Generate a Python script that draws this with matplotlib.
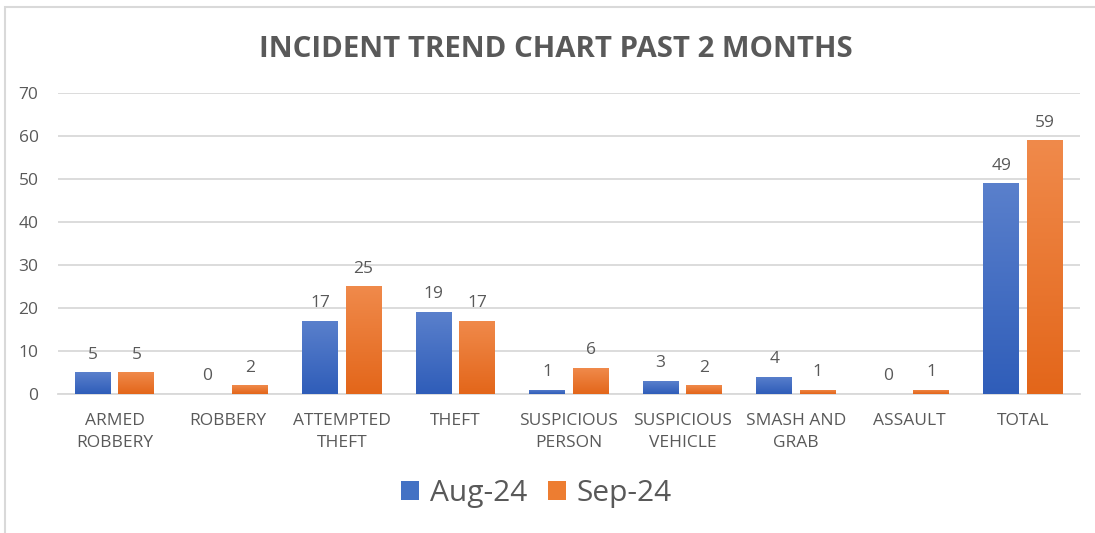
import numpy as np
import matplotlib
matplotlib.use("Agg")
import matplotlib.pyplot as plt
from matplotlib.patches import Rectangle
from matplotlib.colors import LinearSegmentedColormap

plt.rcParams['font.family'] = ['Open Sans', 'DejaVu Sans']

categories = ['ARMED\nROBBERY', 'ROBBERY', 'ATTEMPTED\nTHEFT', 'THEFT', 'SUSPICIOUS\nPERSON',
              'SUSPICIOUS\nVEHICLE', 'SMASH AND\nGRAB', 'ASSAULT', 'TOTAL']
aug_24 = [5, 0, 17, 19, 1, 3, 4, 0, 49]
sep_24 = [5, 2, 25, 17, 6, 2, 1, 1, 59]
y_ticks = [0, 10, 20, 30, 40, 50, 60, 70]

text_grey = '#595959'
grid_grey = '#D9D9D9'


def gradient_bars(ax, bars, top, bottom):
    cmap = LinearSegmentedColormap.from_list('g', [bottom, top])
    grad = np.linspace(0, 1, 256).reshape(-1, 1)
    for b in bars:
        x, y = b.get_x(), b.get_y()
        w, h = b.get_width(), b.get_height()
        if h <= 0:
            continue
        im = ax.imshow(grad, cmap=cmap, aspect='auto', origin='lower',
                       extent=[x, x + w, y, y + h], zorder=3)
        im.set_clip_path(b)


def main():
    fig = plt.figure(figsize=(10.95, 5.33), dpi=100)
    ax = fig.add_axes([0.053, 0.261, 0.933, 0.5645])

    # chart border
    fig.patches.append(Rectangle((5 / 1095, -0.05), 1.1, 1 - 7 / 533 + 0.05,
                                 transform=fig.transFigure, fill=False,
                                 edgecolor=grid_grey, linewidth=1.5))

    x = np.arange(len(categories))
    w = 0.317
    gap = 0.065
    b1 = ax.bar(x - (w + gap) / 2, aug_24, w, color='#4472C4', zorder=2)
    b2 = ax.bar(x + (w + gap) / 2, sep_24, w, color='#ED7D31', zorder=2)
    gradient_bars(ax, b1, '#5A80CC', '#2F5DB9')
    gradient_bars(ax, b2, '#F08A4B', '#E3661A')

    for bars, vals in ((b1, aug_24), (b2, sep_24)):
        for b, v in zip(bars, vals):
            ax.annotate(str(v), (b.get_x() + b.get_width() / 2, v),
                        xytext=(0, 7), textcoords='offset points',
                        ha='center', va='bottom', fontsize=12.5, color=text_grey)

    ax.set_xlim(-0.5, len(categories) - 0.5)
    ax.set_ylim(0, 70)
    ax.set_yticks(y_ticks)
    ax.set_xticks(x)
    ax.set_xticklabels(categories, fontsize=12.5, color=text_grey, linespacing=1.45)
    ax.tick_params(axis='y', labelsize=12.5, labelcolor=text_grey, length=0, pad=14)
    ax.tick_params(axis='x', length=0, pad=14)
    ax.yaxis.grid(True, color=grid_grey, linewidth=1.3, zorder=0)
    ax.set_axisbelow(True)
    for s in ['top', 'right', 'left']:
        ax.spines[s].set_visible(False)
    ax.spines['bottom'].set_color(grid_grey)
    ax.spines['bottom'].set_linewidth(1.3)

    fig.text(0.508, 0.908, 'INCIDENT TREND CHART PAST 2 MONTHS', ha='center', va='center',
             fontsize=21.2, fontweight='bold', color=text_grey)

    leg = fig.legend([b1, b2], ['Aug-24', 'Sep-24'], loc='center', bbox_to_anchor=(0.49, 0.074),
                     ncol=2, frameon=False, fontsize=21.5, handlelength=0.6, handleheight=0.6,
                     handletextpad=0.35, columnspacing=0.7)
    for t in leg.get_texts():
        t.set_color(text_grey)

    fig.savefig('out.png', dpi=100)


if __name__ == "__main__":
    main()
